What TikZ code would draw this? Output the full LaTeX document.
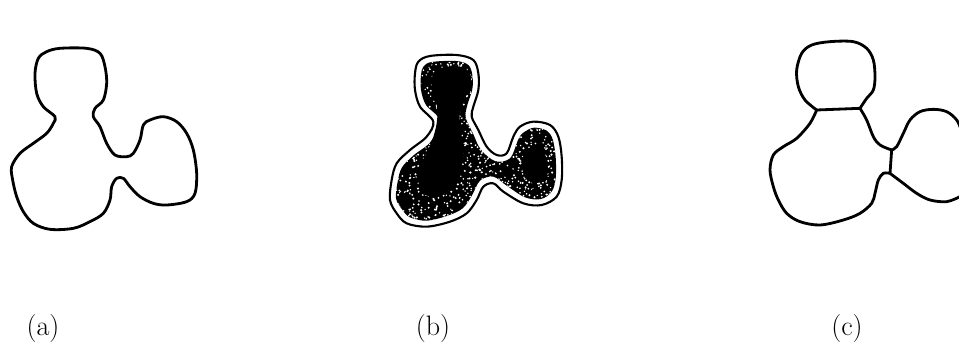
\documentclass[tikz,border=0pt]{standalone}
\usepackage{tikz}

\tikzset{
  outline/.style={line width=1.6pt, line join=round},
  thinline/.style={line width=1.2pt, line join=round},
  speck/.style={fill=white},
  core/.style={fill=black},
  caption/.style={font=\fontsize{16}{18}\selectfont}
}

\begin{document}
\begin{tikzpicture}[x=0.02cm, y=-0.02cm]
    \useasboundingbox (0,0) rectangle (959,358);
    \pgfmathsetseed{4711}

    % (a) original blob
    \begin{scope}[shift={(0,40)}, scale=1/3]
    \draw[outline] plot[smooth cycle, tension=0.55] coordinates {
      (165,230) (130,200) (110,160) (105,100) (115,55) (140,35) (180,25)
      (260,25) (300,40) (315,80) (320,130) (310,180) (285,205) (280,230)
      (300,260) (320,310) (345,345) (380,350) (400,340) (420,300) (430,255)
      (450,240) (490,230) (530,245) (560,280) (580,330) (590,400) (585,460)
      (560,485) (500,495) (460,490) (420,470) (390,440) (370,415) (350,415)
      (335,440) (330,480) (310,520) (270,545) (220,565) (150,568) (100,550)
      (70,515) (50,470) (38,420) (35,380) (60,340) (100,310) (140,280) (160,250)};
    \end{scope}

    % (b) distance bands
    \begin{scope}[shift={(360,40)}, scale=1/3]
    \draw[thinline] plot[smooth cycle, tension=0.55] coordinates {
      (220,245) (180,200) (165,150) (165,100) (175,65) (210,48) (290,45)
      (340,60) (355,100) (355,150) (340,200) (335,230) (355,270) (380,320)
      (410,345) (440,340) (460,290) (480,260) (520,245) (570,255) (595,290)
      (605,350) (605,420) (590,470) (545,495) (490,490) (430,455) (400,430)
      (370,440) (350,480) (320,520) (270,545) (200,560) (140,550) (110,520)
      (90,480) (95,420) (110,370) (150,330) (200,290)};
    \begin{scope}
    \clip plot[smooth cycle, tension=0.55] coordinates {
      (238,240) (198,195) (183,150) (183,105) (190,80) (215,66) (288,63)
      (325,75) (337,105) (337,148) (322,195) (317,232) (338,278) (362,328)
      (405,363) (450,355) (475,298) (490,278) (522,263) (560,272) (578,298)
      (587,352) (587,415) (575,455) (543,477) (495,472) (440,437) (400,410)
      (360,422) (335,468) (308,505) (263,527) (200,542) (150,532) (126,508)
      (108,475) (113,425) (126,382) (162,345) (212,305)};
    \fill[black] (100,40) rectangle (610,560);
    % white specks in the band
    \foreach \i in {1,...,1400}
      \fill[speck] ({350+250*rand},{300+250*rand}) circle ({2+1.5*rnd});
    \end{scope}
    \path[core] plot[smooth cycle, tension=0.6] coordinates {
      (220,100) (250,85) (300,80) (330,100) (330,140) (310,180) (300,210)
      (300,260) (310,330) (300,400) (270,450) (220,470) (180,450) (180,380)
      (210,320) (230,250) (230,190) (215,150)};
    \path[core] plot[smooth cycle, tension=0.6] coordinates {
      (500,330) (540,320) (560,360) (560,410) (520,430) (495,400) (490,360)};
    \end{scope}

    % (c) split into regions
    \begin{scope}
    \clip (720,0) rectangle (959,358);
    \begin{scope}[shift={(720,40)}, scale=1/3]
    \coordinate (neckl) at (290,210);
    \coordinate (neckr) at (420,205);
    \coordinate (jtop) at (515,330);
    \coordinate (jbot) at (510,400);
    \draw[outline] plot[smooth, tension=0.55] coordinates {
      (290,210) (255,180) (235,140) (230,90) (245,40) (275,15) (330,5)
      (400,5) (440,25) (460,60) (465,110) (460,150) (440,175) (420,205)};
    \draw[outline] (neckl) -- (neckr);
    \draw[outline] plot[smooth, tension=0.55] coordinates {
      (420,205) (440,240) (460,290) (480,315) (515,330)};
    \draw[outline] plot[smooth, tension=0.55] coordinates {
      (515,330) (530,320) (550,280) (570,240) (600,215) (640,208) (680,215)
      (710,240) (725,275) (740,330) (740,420) (720,470)};
    \draw[outline] (jtop) -- (jbot);
    \draw[outline] plot[smooth, tension=0.55] coordinates {
      (510,400) (550,430) (590,460) (630,480) (680,485) (720,470)};
    \draw[outline] plot[smooth, tension=0.55] coordinates {
      (510,400) (490,400) (475,420) (465,460) (455,490) (420,520) (370,540)
      (300,555) (240,545) (200,520) (175,480) (160,440) (150,390) (160,345)
      (190,320) (230,295) (270,250) (290,210)};
    \end{scope}
    \end{scope}

    % captions
    \node[caption] (capa) at (43,328) {(a)};
    \node[caption] (capb) at (433,328) {(b)};
    \node[caption] (capc) at (847,328) {(c)};
\end{tikzpicture}
\end{document}
